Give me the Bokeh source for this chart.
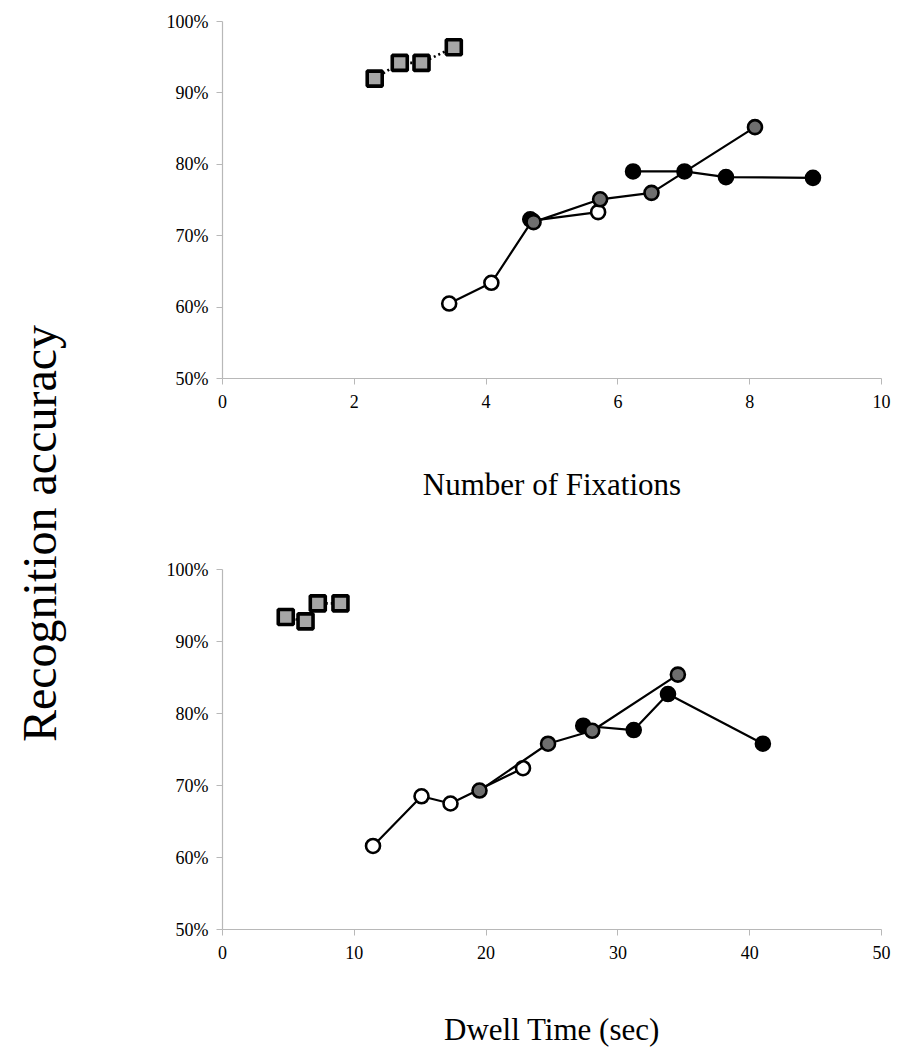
import math
from bokeh.plotting import figure
from bokeh.layouts import row, column
from bokeh.models import Range1d, FixedTicker, PrintfTickFormatter, Label
from bokeh.embed import file_html
from bokeh.resources import INLINE

# ---- data: top panel (Number of Fixations) ----
fix_sq_x = [2.31, 2.69, 3.02, 3.51]
fix_sq_y = [92.0, 94.2, 94.2, 96.4]
fix_open_x = [3.44, 4.08, 4.70, 5.70]
fix_open_y = [60.5, 63.4, 72.1, 73.3]
fix_blk_single_x = [4.67]
fix_blk_single_y = [72.3]
fix_gray_x = [4.72, 5.73, 6.51, 8.08]
fix_gray_y = [71.9, 75.1, 76.0, 85.2]
fix_blk_x = [6.23, 7.01, 7.64, 8.96]
fix_blk_y = [79.0, 79.0, 78.2, 78.1]

# ---- data: bottom panel (Dwell Time) ----
dw_sq_x = [4.8, 6.3, 7.23, 8.95]
dw_sq_y = [93.4, 92.8, 95.3, 95.3]
dw_open_x = [11.42, 15.1, 17.3, 22.8]
dw_open_y = [61.6, 68.5, 67.5, 72.4]
dw_gray_x = [19.5, 24.7, 28.05, 34.55]
dw_gray_y = [69.3, 75.8, 77.6, 85.4]
dw_blk_x = [27.37, 31.2, 33.8, 41.0]
dw_blk_y = [78.3, 77.7, 82.7, 75.8]

y_ticks = [50, 60, 70, 80, 90, 100]
fix_ticks = [0, 2, 4, 6, 8, 10]
dw_ticks = [0, 10, 20, 30, 40, 50]

FONT = "Liberation Serif"
AXIS_GRAY = "#b8b8b8"
GRAY_FILL = "#6e6e6e"
SQ_FILL = "#a6a6a6"


def make_panel(xmax, xticks, xlabel, height, border_top, border_bottom, standoff):
    p = figure(width=755, height=height, output_backend="svg", toolbar_location=None,
               x_range=Range1d(0, xmax), y_range=Range1d(50, 100),
               min_border_left=84, min_border_right=12,
               min_border_top=border_top, min_border_bottom=border_bottom)
    p.outline_line_color = None
    p.xgrid.visible = False
    p.ygrid.visible = False
    p.background_fill_color = "white"
    p.border_fill_color = "white"
    for ax in (p.xaxis[0], p.yaxis[0]):
        ax.axis_line_color = AXIS_GRAY
        ax.axis_line_width = 1.2
        ax.major_tick_line_color = AXIS_GRAY
        ax.major_tick_out = 6
        ax.major_tick_in = 0
        ax.minor_tick_line_color = None
        ax.major_label_text_font = FONT
        ax.major_label_text_font_size = "18px"
        ax.major_label_text_color = "black"
    p.xaxis.ticker = FixedTicker(ticks=xticks)
    p.yaxis.ticker = FixedTicker(ticks=y_ticks)
    p.yaxis.formatter = PrintfTickFormatter(format="%d%%")
    p.xaxis.major_label_standoff = 10
    p.yaxis.major_label_standoff = 8
    p.xaxis.axis_label = xlabel
    p.xaxis.axis_label_text_font = FONT
    p.xaxis.axis_label_text_font_size = "31px"
    p.xaxis.axis_label_text_font_style = "normal"
    p.xaxis.axis_label_text_color = "black"
    p.xaxis.axis_label_standoff = standoff
    return p


def circles(p, xs, ys, fill, with_line=True):
    if with_line:
        p.line(xs, ys, line_color="black", line_width=2.2)
    p.scatter(xs, ys, marker="circle", size=14, fill_color=fill,
              line_color="black", line_width=2.6)


def squares(p, xs, ys):
    p.line(xs, ys, line_color="black", line_width=2.6, line_dash="2 3")
    p.scatter(xs, ys, marker="square", size=15, fill_color=SQ_FILL,
              line_color="black", line_width=3.6)


top = make_panel(10, fix_ticks, "Number of Fixations", 520, 21, 142, 56)
circles(top, fix_open_x, fix_open_y, "white")
circles(top, fix_blk_single_x, fix_blk_single_y, "black", with_line=False)
circles(top, fix_blk_x, fix_blk_y, "black")
circles(top, fix_gray_x, fix_gray_y, GRAY_FILL)
squares(top, fix_sq_x, fix_sq_y)

bottom = make_panel(50, dw_ticks, "Dwell Time (sec)", 529, 49, 120, 50)
circles(bottom, dw_open_x, dw_open_y, "white")
circles(bottom, dw_blk_x, dw_blk_y, "black")
circles(bottom, dw_gray_x, dw_gray_y, GRAY_FILL)
squares(bottom, dw_sq_x, dw_sq_y)

# left panel holding the shared y-axis title
left = figure(width=138, height=1049, output_backend="svg", toolbar_location=None,
              x_range=Range1d(0, 1), y_range=Range1d(0, 1),
              min_border=0)
left.outline_line_color = None
left.axis.visible = False
left.grid.visible = False
left.add_layout(Label(x=39, y=516, x_units="screen", y_units="screen",
                      text="Recognition accuracy", angle=math.pi / 2,
                      text_align="center", text_baseline="middle",
                      text_font=FONT, text_font_size="48px", text_color="black"))

layout = row(left, column(top, bottom, spacing=0), spacing=0)

open("out.html", "w").write(file_html(layout, INLINE))
